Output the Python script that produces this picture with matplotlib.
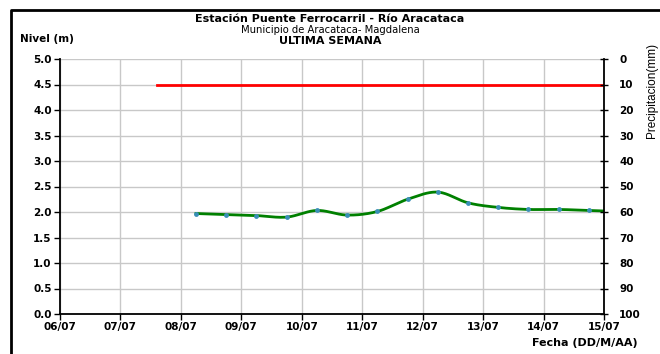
import numpy as np
import matplotlib.pyplot as plt
from matplotlib.lines import Line2D

# days since 06/07 (0 = 06/07 00:00)
dias = [2.25, 2.75, 3.25, 3.75, 4.25, 4.75, 5.25, 5.75, 6.25, 6.75, 7.25, 7.75, 8.25, 8.75, 9.0]
nivel = [1.97, 1.95, 1.93, 1.90, 2.03, 1.94, 2.01, 2.25, 2.39, 2.18, 2.09, 2.05, 2.05, 2.03, 2.02]
alerta_x = [1.6, 9.0]
alerta_y = [4.5, 4.5]
fechas = ["06/07", "07/07", "08/07", "09/07", "10/07", "11/07", "12/07", "13/07", "14/07", "15/07"]
nivel_ticks = [0.0, 0.5, 1.0, 1.5, 2.0, 2.5, 3.0, 3.5, 4.0, 4.5, 5.0]
precip_ticks = [0, 10, 20, 30, 40, 50, 60, 70, 80, 90, 100]

plt.rcParams['font.family'] = ['DejaVu Sans']


def smooth(x, y, n=20):
    # catmull-rom curve through the points (like Excel's smoothed line)
    x = np.asarray(x, float)
    y = np.asarray(y, float)
    px = np.concatenate([[2 * x[0] - x[1]], x, [2 * x[-1] - x[-2]]])
    py = np.concatenate([[2 * y[0] - y[1]], y, [2 * y[-1] - y[-2]]])
    t = np.linspace(0, 1, n)
    xs, ys = [], []
    for i in range(1, len(px) - 2):
        for p, out in ((px, xs), (py, ys)):
            p0, p1, p2, p3 = p[i - 1], p[i], p[i + 1], p[i + 2]
            out.extend(0.5 * (2 * p1 + (-p0 + p2) * t
                              + (2 * p0 - 5 * p1 + 4 * p2 - p3) * t ** 2
                              + (-p0 + 3 * p1 - 3 * p2 + p3) * t ** 3))
    return xs, ys


fig = plt.figure(figsize=(6.6, 3.54), dpi=100)
ax = fig.add_axes([60 / 660, 40 / 354, 544 / 660, 255 / 354])

ax.set_xlim(0, 9)
ax.set_ylim(0, 5)
ax.set_xticks(range(len(fechas)))
ax.set_xticklabels(fechas)
ax.set_yticks(nivel_ticks)
ax.set_yticklabels(["%.1f" % v for v in nivel_ticks])
ax.grid(True, color="#c8c8c8", linewidth=1)
ax.set_axisbelow(True)

ax.plot(alerta_x, alerta_y, color="#ff0000", linewidth=2)
sx, sy = smooth(dias, nivel)
ax.plot(sx, sy, color="#008000", linewidth=2, zorder=3)
ax.plot(dias[:-1], nivel[:-1], "o", color="#3a8fb7", markersize=3.5,
        markeredgewidth=0, zorder=4)

for s in ["left", "bottom"]:
    ax.spines[s].set_color("black")
    ax.spines[s].set_linewidth(1.3)
ax.spines["top"].set_visible(False)
ax.spines["right"].set_visible(False)
ax.tick_params(axis="both", labelsize=7.5, length=4, width=1, pad=2)
for lab in ax.get_xticklabels() + ax.get_yticklabels():
    lab.set_fontweight("bold")

ax2 = ax.twinx()
ax2.set_ylim(100, 0)
ax2.set_yticks(precip_ticks)
ax2.spines["right"].set_linewidth(1.3)
for s in ["left", "top", "bottom"]:
    ax2.spines[s].set_visible(False)
ax2.tick_params(axis="y", labelsize=7.5, direction="inout", length=6, width=1, pad=8)
for lab in ax2.get_yticklabels():
    lab.set_fontweight("bold")
fig.text(652 / 660, 1 - 90 / 354, "Precipitacion(mm)", rotation=90,
         ha="center", va="center", fontsize=8.5, family="Liberation Sans")

fig.text(0.5, 1 - 18.5 / 354, "Estación Puente Ferrocarril - Río Aracataca",
         ha="center", va="center", fontsize=8, fontweight="bold")
fig.text(0.5, 1 - 30 / 354, "Municipio de Aracataca- Magdalena",
         ha="center", va="center", fontsize=7.2)
fig.text(0.5, 1 - 41.5 / 354, "ULTIMA SEMANA",
         ha="center", va="center", fontsize=8, fontweight="bold")
fig.text(20 / 660, 1 - 39 / 354, "Nivel (m)", ha="left", va="center",
         fontsize=7.5, fontweight="bold")
fig.text(638 / 660, 1 - 343 / 354, "Fecha (DD/M/AA)", ha="right", va="center",
         fontsize=8, fontweight="bold")

# outer frame (left and top edges)
fx = 11 / 660
fy = 1 - 10 / 354
fig.add_artist(Line2D([fx, fx, 1], [0, fy, fy], color="black", linewidth=2,
                      transform=fig.transFigure))

fig.savefig("out.png", dpi=100)
